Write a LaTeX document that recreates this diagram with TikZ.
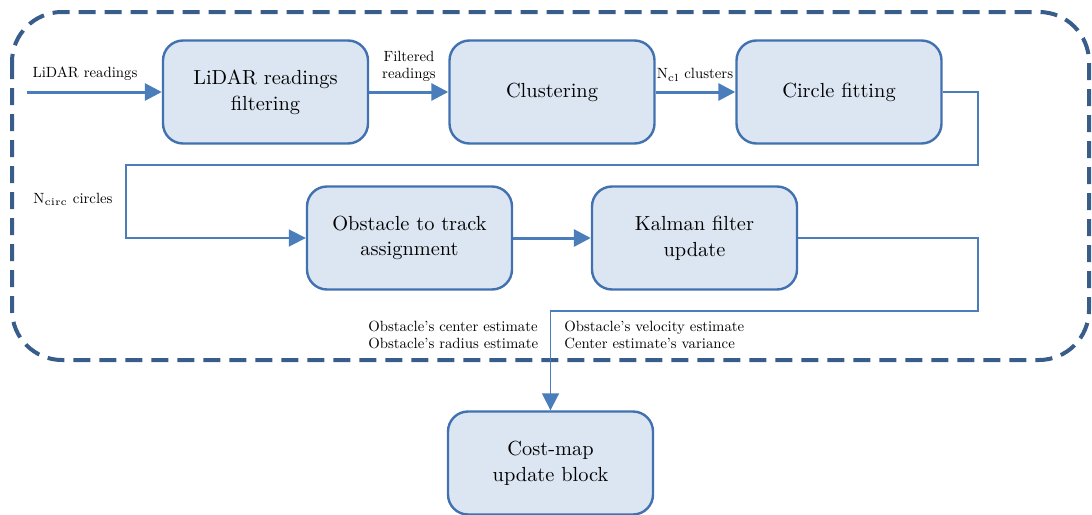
\documentclass[tikz,border=0pt]{standalone}
\usepackage{fontspec}
\usepackage{amsmath}
\usepackage{tikz}
\usetikzlibrary{arrows.meta,positioning}
\newfontfamily\lblfont{lmroman10-regular}[Extension=.otf, Ligatures=TeX]
\definecolor{boxfill}{RGB}{220,230,242}
\definecolor{boxline}{RGB}{65,113,176}
\definecolor{flowline}{RGB}{74,126,187}
\definecolor{groupline}{RGB}{56,93,138}
\tikzstyle{block}=[
	draw=boxline,
	line width=1.2pt,
	fill=boxfill,
	rounded corners=10pt,
	minimum width=102.5pt,
	minimum height=51.5pt,
	align=center,
	inner sep=2pt,
	font=\fontsize{10.2}{12.8}\selectfont
]
\tikzstyle{flow}=[
	draw=flowline,
	line width=1.5pt,
	-{Triangle[length=8.5pt,width=8.5pt]}
]
\tikzstyle{route}=[
	draw=flowline,
	line width=0.9pt
]
\tikzstyle{lbl}=[
	inner sep=1pt,
	font=\lblfont\fontsize{7.4}{8.6}\selectfont
]
\tikzstyle{group}=[
	draw=groupline,
	line width=2pt,
	dash pattern=on 8.5pt off 4.5pt,
	rounded corners=25pt
]

\begin{document}
\begin{tikzpicture}[x=0.5pt, y=-0.5pt]
\useasboundingbox (0,0) rectangle (1092,514);

\draw[group] (12,12) rectangle (1089,360);

\node[block] at (265.5, 92) (filt) {LiDAR readings\\filtering};
\node[block] at (552, 92) (clust) {Clustering};
\node[block] at (839, 92) (circfit) {Circle fitting};
\node[block] at (409.5, 238) (assign) {Obstacle to track\\assignment};
\node[block] at (694.5, 238) (kalman) {Kalman filter\\update};
\node[block] at (550.5, 463) (costmap) {Cost-map\\update block};

\coordinate (lidarin) at (27, 92);
\coordinate (c1) at (978, 165);
\coordinate (c2) at (126, 165);
\coordinate (k1) at (978, 311);

\draw[flow] (lidarin) -- (filt);
\draw[flow] (filt) -- (clust);
\draw[flow] (clust) -- (circfit);
\draw[flow] (assign) -- (kalman);
\draw[route, -{Triangle[length=8.5pt,width=8.5pt]}] (circfit.east) -| (c1) -- (c2) |- (assign.west);
\draw[route, -{Triangle[length=8.5pt,width=8.5pt]}] (kalman.east) -| (k1) -| (costmap.north);

\node[lbl] at (85, 74) (lidarlbl) {LiDAR readings};
\node[lbl, align=center] at (409, 66) (filtlbl) {Filtered\\readings};
\node[lbl] at (695, 75) (ncl) {N$_\mathrm{cl}$ clusters};
\node[lbl] at (73, 199) (ncirc) {N$_\mathrm{circ}$ circles};
\node[lbl, anchor=west, align=left] at (366, 335) (estleft) {Obstacle's center estimate\\Obstacle's radius estimate};
\node[lbl, anchor=west, align=left] at (562, 335) (estright) {Obstacle's velocity estimate\\Center estimate's variance};
\end{tikzpicture}
\end{document}
